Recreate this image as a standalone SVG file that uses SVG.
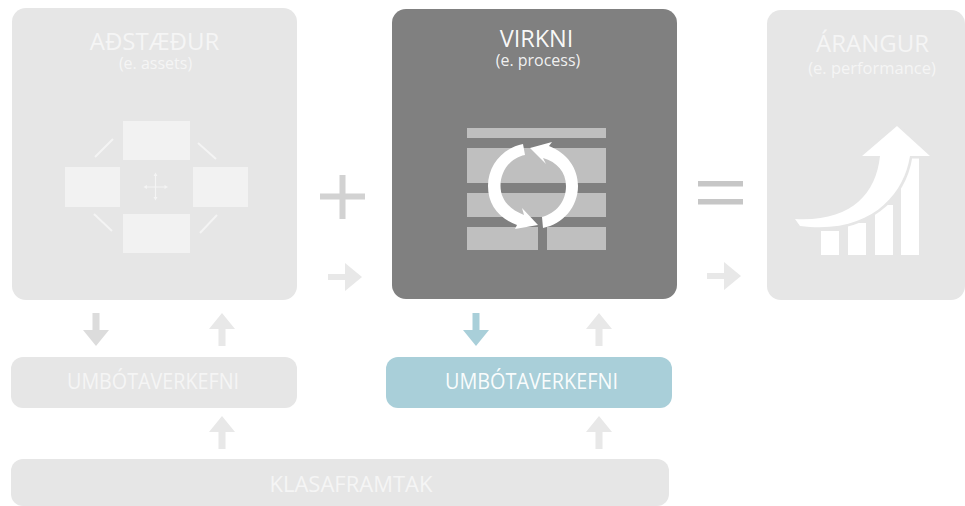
<svg xmlns="http://www.w3.org/2000/svg" width="965" height="506" viewBox="0 0 965 506">
<style>
text{font-family:"Open Sans","Noto Sans","Liberation Sans",sans-serif;text-anchor:middle}
.pale{fill:#e6e6e6}
.t{fill:#f5f5f5}
.w{fill:#fff}
.lt{fill:#f2f2f2}
.mid{fill:#bfbfbf}
.arr{fill:#e8e8e8}
.diag{stroke:#f4f4f4;stroke-width:2;fill:none}
</style>
<defs>
<path id="up" d="M-3.500 33V16H-13L0 0L13 16H3.500V33Z"/>
<path id="right" d="M0 -3H17V-14L34 0L17 14V3H0Z"/>
</defs>
<rect width="965" height="506" fill="#fff"/>
<g id="node-adstaedur">
<rect class="pale" x="12" y="8" width="285" height="292" rx="14"/>
<text class="t" x="154.500" y="50" font-size="24">AÐSTÆÐUR</text>
<text class="t" x="155.500" y="69" font-size="16">(e. assets)</text>
<rect class="lt" x="123" y="121" width="67" height="39"/>
<rect class="lt" x="65" y="167" width="55" height="40"/>
<rect class="lt" x="193" y="167" width="55" height="40"/>
<rect class="lt" x="123" y="214" width="67" height="39"/>
<path class="diag" d="M95 157L113 139M198 143L216 159M94 214L112 231M200 233L217 215"/>
<path d="M155.500 175V198M146 187H166" stroke="#f4f4f4" stroke-width="1.200" fill="none"/>
<path d="M155.500 172.500L153.500 176H157.500ZM155.500 200.500L153.500 197H157.500ZM143.500 187L147 185V189ZM168 187L164.500 185V189Z" fill="#f4f4f4"/>
</g>
<g id="node-virkni">
<rect x="392" y="9" width="285" height="290" rx="14" fill="#808080"/>
<text class="w" x="536.500" y="47" font-size="23.500" fill-opacity=".95">VIRKNI</text>
<text class="w" x="538" y="66" font-size="16" fill-opacity=".9">(e. process)</text>
<rect class="mid" x="467" y="128" width="139" height="10"/>
<rect class="mid" x="467" y="148" width="139" height="35"/>
<rect class="mid" x="467" y="193" width="139" height="24"/>
<rect class="mid" x="467" y="227" width="71" height="23"/>
<rect class="mid" x="547" y="227" width="59" height="23"/>
<path class="w" d="M523 144L525 155C510 158 500.500 171 500.500 186C500.500 198 508 209 524 215L522 208L538 225L515 229L517 225C498 218 488 204 488 186C488 165 503 148 523 144Z"/>
<path class="w" d="M530 148L552 142L549 146C567 153 578 168 578 186C578 207 563 224 543 228L542 217C556 213 566 202 566 186C566 172 557 162 543 158L546 164Z"/>
</g>
<g id="node-arangur">
<rect class="pale" x="767" y="10" width="198" height="290" rx="14"/>
<text class="t" x="872.500" y="52" font-size="24">ÁRANGUR</text>
<text class="t" x="872" y="74" font-size="16.500">(e. performance)</text>
<rect class="w" x="821" y="231" width="18" height="24"/>
<rect class="w" x="848" y="223" width="18" height="32"/>
<rect class="w" x="875" y="205" width="18" height="50"/>
<rect class="w" x="901" y="158" width="18" height="97"/>
<path class="w" d="M897 126L930 156H910C904 195 870 235 800 226L795 219C850 222 876 195 880 156H862Z" stroke="#e6e6e6" stroke-width="5" paint-order="stroke" stroke-linejoin="round"/>
</g>
<g id="node-umbotaverkefni-1">
<rect class="pale" x="11" y="357" width="286" height="51" rx="12"/>
<text class="t" x="153" y="389" font-size="21" textLength="172" lengthAdjust="spacingAndGlyphs">UMBÓTAVERKEFNI</text>
</g>
<g id="node-umbotaverkefni-2">
<rect x="386" y="357" width="286" height="51" rx="12" fill="#a9cfd9"/>
<text class="w" x="531.500" y="389" font-size="21" fill-opacity=".95" textLength="173" lengthAdjust="spacingAndGlyphs">UMBÓTAVERKEFNI</text>
</g>
<g id="node-klasaframtak">
<rect class="pale" x="11" y="459" width="658" height="47" rx="12"/>
<text class="t" x="351" y="492" font-size="22">KLASAFRAMTAK</text>
</g>
<g id="connectors">
<path fill="#d2d2d2" d="M320 193.500H339.500V175H345.500V193.500H365V199.500H345.500V219H339.500V199.500H320Z"/>
<rect x="698" y="181" width="45" height="5.500" fill="#c6c6c6"/>
<rect x="698" y="199" width="45" height="5.500" fill="#c6c6c6"/>
<use href="#right" class="arr" x="328" y="277"/>
<use href="#right" class="arr" x="707" y="276"/>
<use href="#up" fill="#dcdcdc" transform="translate(96 346) scale(1 -1)"/>
<use href="#up" class="arr" x="222" y="313"/>
<use href="#up" class="arr" x="222" y="416"/>
<use href="#up" fill="#a9cfd9" transform="translate(476 346) scale(1 -1)"/>
<use href="#up" class="arr" x="599" y="313"/>
<use href="#up" class="arr" x="599" y="416"/>
</g>
</svg>
